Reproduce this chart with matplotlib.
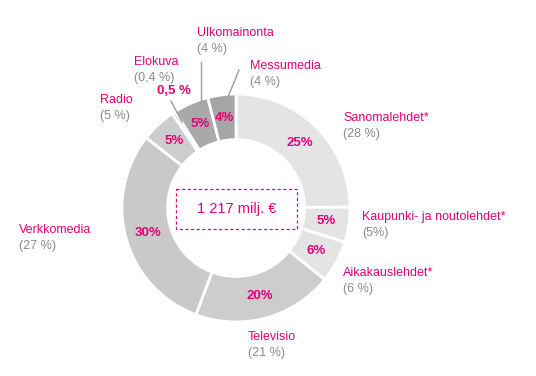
import matplotlib
matplotlib.use("Agg")
import matplotlib.pyplot as plt
import numpy as np
from matplotlib.patches import Rectangle

plt.rcParams['font.family'] = ['Liberation Sans', 'DejaVu Sans']

categories = ["Sanomalehdet*", "Kaupunki- ja noutolehdet*", "Aikakauslehdet*", "Televisio",
              "Verkkomedia", "Radio", "Elokuva", "Ulkomainonta", "Messumedia"]
shares = [25, 5, 6, 20, 30, 5, 0.5, 5, 4]
share_labels = ["25%", "5%", "6%", "20%", "30%", "5%", "", "5%", "4%"]
prev_labels = ["(28 %)", "(5%)", "(6 %)", "(21 %)", "(27 %)", "(5 %)", "(0,4 %)", "(4 %)", "(4 %)"]
colors = ["#e4e4e4", "#e4e4e4", "#e4e4e4", "#cdcdcd", "#c9c9c9", "#cdcdcd", "#b8b8b8", "#a9a9a9", "#a5a5a5"]
total_label = "1 217 milj. €"
elokuva_share_label = "0,5 %"

PINK = "#e3007b"
GRAY = "#8a8a8a"

W, H = 536, 376
fig = plt.figure(figsize=(W / 100, H / 100), dpi=100)
ax = fig.add_axes([0, 0, 1, 1])

cx, cy, R = 236, 208, 114
ring = 0.4
# y axis is inverted (pixel coords): start at -90 and go counterclockwise in data
# coordinates, which is clockwise from the top on screen.
wedges, _ = ax.pie(shares, colors=colors, startangle=-90, counterclock=True,
                   center=(cx, cy), radius=R, frame=True,
                   wedgeprops=dict(width=R * ring, edgecolor="white", linewidth=2))
ax.set_xlim(0, W)
ax.set_ylim(H, 0)
ax.set_aspect("equal")
ax.axis("off")

r_lab = R * (1 - ring / 2)
for w, lab in zip(wedges, share_labels):
    if not lab:
        continue
    ang = np.deg2rad((w.theta1 + w.theta2) / 2)
    x = cx + r_lab * np.cos(ang)
    y = cy + r_lab * np.sin(ang)
    ax.text(x, y, lab, color=PINK, fontsize=9.5, fontweight="bold", ha="center", va="center")

outer_pos = {
    "Sanomalehdet*": (343, 118),
    "Kaupunki- ja noutolehdet*": (362, 217),
    "Aikakauslehdet*": (343, 273),
    "Televisio": (248, 337),
    "Verkkomedia": (19, 230),
    "Radio": (100, 100),
    "Elokuva": (134, 62),
    "Ulkomainonta": (197, 33),
    "Messumedia": (250, 66),
}
for name, prev in zip(categories, prev_labels):
    x, y = outer_pos[name]
    ax.text(x, y, name, color=PINK, fontsize=9, ha="left", va="center")
    ax.text(x, y + 16, prev, color=GRAY, fontsize=9, ha="left", va="center")

ax.text(157, 91, elokuva_share_label, color=PINK, fontsize=9.5, fontweight="bold", ha="left", va="center")

ax.plot([171, 182], [101, 122], color="#9a9a9a", lw=1)
ax.plot([201, 201], [62, 102], color="#9a9a9a", lw=1)
ax.plot([239, 228], [70, 97], color="#9a9a9a", lw=1)

ax.add_patch(Rectangle((176, 189), 121, 40, fill=False, edgecolor=PINK, lw=0.9,
                       linestyle=(0, (2.5, 2))))
ax.text(236.5, 209, total_label, color=PINK, fontsize=10.5, ha="center", va="center")

fig.savefig("out.png", dpi=100)
